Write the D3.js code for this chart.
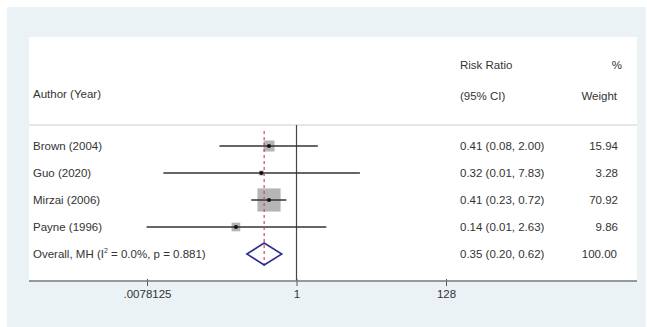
<!DOCTYPE html>
<html>
<head>
<meta charset="utf-8">
<script src="https://cdn.jsdelivr.net/npm/d3@7"></script>
<style>
  body { margin: 0; background: #fff; }
  svg { display: block; font-family: "Liberation Sans", Arial, sans-serif; }
  text { fill: #333; font-size: 11.5px; }
</style>
</head>
<body>
<div class="forest-box"></div>
<script>
// study rows
var studies = ['Brown (2004)', 'Guo (2020)', 'Mirzai (2006)', 'Payne (1996)'];
var est     = [0.41, 0.32, 0.41, 0.14];
var lo      = [0.082, 0.0133, 0.23, 0.0077];
var hi      = [2.00, 7.83, 0.72, 2.63];
var weights = [15.94, 3.28, 70.92, 9.86];

// pooled estimate
var overall_label = 'Overall, MH (I';
var overall_rest = ' = 0.0%, p = 0.881)';
var overall = {est: 0.35, lo: 0.20, hi: 0.62, weight: 100.00};

var tick_vals = [0.0078125, 1, 128];
var tick_labels = ['.0078125', '1', '128'];

var width = 647,
    height = 327;

var svg = d3.select('.forest-box').append('svg')
    .attr('width', width)
    .attr('height', height);

// outer light panel, inner white plot region
svg.append('rect')
  .attr('x', 7).attr('y', 7)
  .attr('width', 639).attr('height', 320)
  .attr('fill', '#eaf2f5');
svg.append('rect')
  .attr('x', 29).attr('y', 37)
  .attr('width', 608).attr('height', 244)
  .attr('fill', '#fff');

var x = d3.scaleLog().base(2)
    .domain([0.0078125, 128])
    .range([147, 446]);

var rows = studies.concat(['overall']);
var y = d3.scalePoint()
    .domain(rows)
    .range([146, 254]);

var box_k = 2.75;

// header
svg.append('text').attr('x', 33).attr('y', 94).attr('dy', '0.35em').text('Author (Year)');
svg.append('text').attr('x', 460).attr('y', 65).attr('dy', '0.35em').text('Risk Ratio');
svg.append('text').attr('x', 460).attr('y', 96).attr('dy', '0.35em').text('(95% CI)');
svg.append('text').attr('x', 622).attr('y', 65).attr('dy', '0.35em')
  .attr('text-anchor', 'end').text('%');
svg.append('text').attr('x', 617).attr('y', 96).attr('dy', '0.35em')
  .attr('text-anchor', 'end').text('Weight');

svg.append('line')
  .attr('x1', 29).attr('x2', 637)
  .attr('y1', 125).attr('y2', 125)
  .attr('stroke', '#cfcfcf').attr('stroke-width', 1.2);

// no-effect line
svg.append('line')
  .attr('x1', x(1)).attr('x2', x(1))
  .attr('y1', 125).attr('y2', 281)
  .attr('stroke', '#444').attr('stroke-width', 1.2);

var data = studies.map(function(s, i) {
  return {name: s, est: est[i], lo: lo[i], hi: hi[i], weight: weights[i]};
});

var fmt = function(v) { return v.toFixed(2); };

var g = svg.selectAll('.study')
  .data(data)
  .enter().append('g')
  .attr('class', 'study');

g.append('rect')
  .attr('x', function(d) { return x(d.est) - box_k * Math.sqrt(d.weight) / 2; })
  .attr('y', function(d) { return y(d.name) - box_k * Math.sqrt(d.weight) / 2; })
  .attr('width', function(d) { return box_k * Math.sqrt(d.weight); })
  .attr('height', function(d) { return box_k * Math.sqrt(d.weight); })
  .attr('fill', '#b5b5b5');

g.append('line')
  .attr('x1', function(d) { return x(d.lo); })
  .attr('x2', function(d) { return x(d.hi); })
  .attr('y1', function(d) { return y(d.name); })
  .attr('y2', function(d) { return y(d.name); })
  .attr('stroke', '#333').attr('stroke-width', 1.5);

g.append('circle')
  .attr('cx', function(d) { return x(d.est); })
  .attr('cy', function(d) { return y(d.name); })
  .attr('r', 2)
  .attr('fill', '#111');

g.append('text')
  .attr('x', 33)
  .attr('y', function(d) { return y(d.name); })
  .attr('dy', '0.35em')
  .text(function(d) { return d.name; });

g.append('text')
  .attr('x', 460)
  .attr('y', function(d) { return y(d.name); })
  .attr('dy', '0.35em')
  .text(function(d) { return fmt(d.est) + ' (' + fmt(d.lo) + ', ' + fmt(d.hi) + ')'; });

g.append('text')
  .attr('x', 618)
  .attr('y', function(d) { return y(d.name); })
  .attr('dy', '0.35em')
  .attr('text-anchor', 'end')
  .text(function(d) { return fmt(d.weight); });

// pooled estimate dashed line + diamond
svg.append('line')
  .attr('x1', x(overall.est)).attr('x2', x(overall.est))
  .attr('y1', 131).attr('y2', 269)
  .attr('stroke', '#d0485a').attr('stroke-width', 1.2)
  .attr('stroke-dasharray', '3,3');

var oy = y('overall');
svg.append('path')
  .attr('d', 'M' + x(overall.lo) + ',' + oy +
             'L' + x(overall.est) + ',' + (oy - 11) +
             'L' + x(overall.hi) + ',' + oy +
             'L' + x(overall.est) + ',' + (oy + 11) + 'Z')
  .attr('fill', 'none')
  .attr('stroke', '#2b2f8f').attr('stroke-width', 1.6);

var ot = svg.append('text').attr('x', 33).attr('y', oy + 4);
ot.append('tspan').text(overall_label);
ot.append('tspan').attr('dy', -5).style('font-size', '7px').text('2');
ot.append('tspan').attr('dy', 5).text(overall_rest);

svg.append('text')
  .attr('x', 460).attr('y', oy).attr('dy', '0.35em')
  .text(fmt(overall.est) + ' (' + fmt(overall.lo) + ', ' + fmt(overall.hi) + ')');
svg.append('text')
  .attr('x', 617).attr('y', oy).attr('dy', '0.35em')
  .attr('text-anchor', 'end')
  .text(fmt(overall.weight));

// x axis
var axis = d3.axisBottom(x)
  .tickValues(tick_vals)
  .tickFormat(function(d, i) { return tick_labels[i]; })
  .tickSize(5)
  .tickSizeOuter(0);

var ax = svg.append('g')
  .attr('transform', 'translate(0,281)')
  .call(axis);
ax.select('.domain').remove();
ax.selectAll('.tick line').attr('stroke', '#555').attr('y1', -2);
ax.selectAll('.tick text').attr('y', 9).attr('fill', '#333')
  .style('font-size', '11.5px')
  .style('font-family', '"Liberation Sans", Arial, sans-serif');
svg.append('line')
  .attr('x1', 29).attr('x2', 637)
  .attr('y1', 281).attr('y2', 281)
  .attr('stroke', '#777').attr('stroke-width', 1.5);
</script>
</body>
</html>
